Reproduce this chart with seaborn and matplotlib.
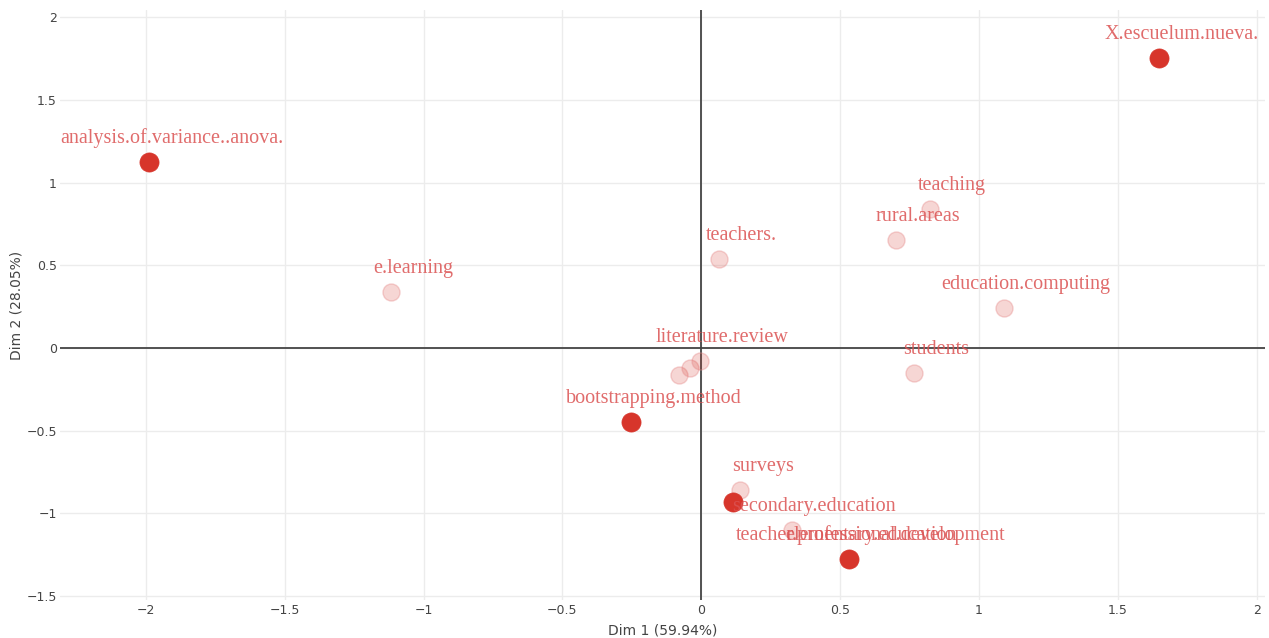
import pandas as pd
import seaborn as sns
import matplotlib.pyplot as plt

# dimension coordinates
labels = ["X.escuelum.nueva.", "analysis.of.variance..anova.", "bootstrapping.method",
          "", "teacher.professional.development",
          "e.learning", "teachers.", "teaching", "rural.areas", "education.computing",
          "students", "", "", "literature.review", "surveys",
          "secondary.education", "elementary.education"]
dim1 = [1.648, -1.987, -0.252, 0.115, 0.530,
        -1.118, 0.065, 0.822, 0.700, 1.089,
        0.765, -0.079, -0.040, -0.004, 0.141,
        0.325, 0.530]
dim2 = [1.752, 1.124, -0.447, -0.930, -1.275,
        0.338, 0.538, 0.840, 0.653, 0.242,
        -0.151, -0.163, -0.121, -0.079, -0.858,
        -1.100, -1.275]
group = ["dark"] * 5 + ["light"] * 12

df = pd.DataFrame({"label": labels, "Dim1": dim1, "Dim2": dim2, "group": group})

RED = "#d7352b"

sns.set_style("white")
fig = plt.figure(figsize=(12.69, 6.38), dpi=100)
ax = fig.add_axes([0.047, 0.06, 0.95, 0.924])

light = df[df["group"] == "light"]
dark = df[df["group"] == "dark"]
sns.scatterplot(data=light, x="Dim1", y="Dim2", ax=ax, s=150,
                color=(0.84, 0.21, 0.17, 0.2), edgecolor=(0.9, 0.55, 0.55, 0.4),
                linewidth=1, zorder=3)
sns.scatterplot(data=dark, x="Dim1", y="Dim2", ax=ax, s=190,
                color=RED, edgecolor=RED, linewidth=0.5, zorder=4)

for _, r in df.iterrows():
    if r["label"]:
        ax.annotate(r["label"], (r["Dim1"], r["Dim2"]), xytext=(16, 17),
                    textcoords="offset points", ha="center", va="center",
                    fontsize=14.5, family="Liberation Serif",
                    color=(0.86, 0.32, 0.32, 0.85), zorder=5)

ax.axhline(0, color="#444444", lw=1.3, zorder=2)
ax.axvline(0, color="#444444", lw=1.3, zorder=2)

ax.set_xlim(-2.31, 2.03)
ax.set_ylim(-1.523, 2.042)
ax.set_xticks([-2, -1.5, -1, -0.5, 0, 0.5, 1, 1.5, 2])
ax.set_xticklabels(["\u22122", "\u22121.5", "\u22121", "\u22120.5", "0", "0.5", "1", "1.5", "2"])
ax.set_yticks([-1.5, -1, -0.5, 0, 0.5, 1, 1.5, 2])
ax.set_yticklabels(["\u22121.5", "\u22121", "\u22120.5", "0", "0.5", "1", "1.5", "2"])
ax.grid(True, color="#ececec", lw=1, zorder=0)
ax.tick_params(length=0, labelsize=9, labelcolor="#444444")
ax.tick_params(axis="x", pad=3)
ax.tick_params(axis="y", pad=2)
for s in ax.spines.values():
    s.set_visible(False)

ax.set_xlabel("Dim 1 (59.94%)", fontsize=10, color="#444444")
ax.set_ylabel("Dim 2 (28.05%)", fontsize=10, color="#444444")
ax.xaxis.set_label_coords(0.5, -0.04)
ax.yaxis.set_label_coords(-0.03, 0.5)

fig.savefig("out.png", dpi=100)
